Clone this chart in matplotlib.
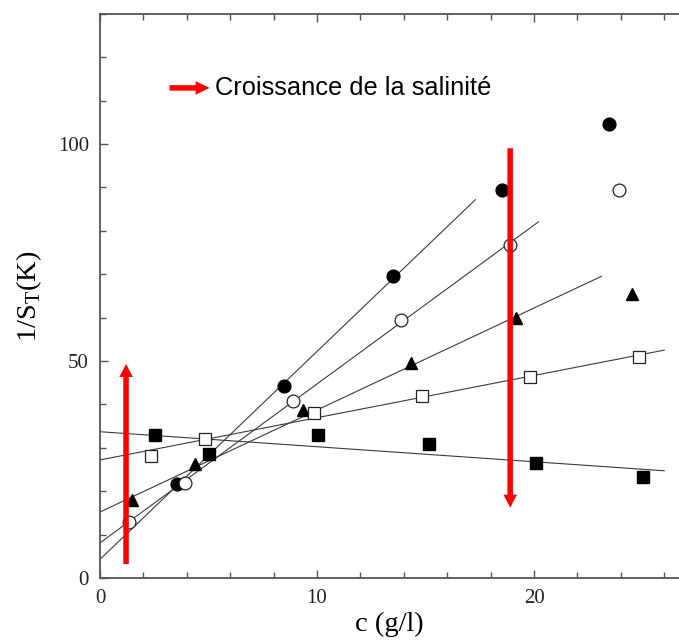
"""1/S_T versus salt concentration, with linear fits per series."""

import matplotlib

matplotlib.use("Agg")
import matplotlib.pyplot as plt
from matplotlib.ticker import MultipleLocator

SERIF = ["Liberation Serif", "DejaVu Serif"]
SANS = ["Liberation Sans", "DejaVu Sans"]
LINE_COLOR = "#3a3a3a"
SPINE_COLOR = "#555555"

# measured points, one list per series
c_filled_circle = [3.55, 8.48, 13.5, 18.54, 23.47]
st_filled_circle = [21.7, 44.2, 69.6, 89.5, 104.7]

c_open_circle = [1.35, 3.92, 8.88, 13.87, 18.9, 23.9]
st_open_circle = [12.8, 22.0, 40.8, 59.4, 76.7, 89.3]

c_triangle = [1.46, 4.38, 9.34, 14.33, 19.17, 24.5]
st_triangle = [18.0, 26.3, 38.7, 49.6, 60.0, 65.4]

c_open_square = [2.35, 4.85, 9.84, 14.84, 19.83, 24.82]
st_open_square = [28.1, 32.1, 37.9, 42.0, 46.3, 50.9]

c_filled_square = [2.52, 5.0, 10.06, 15.14, 20.07, 25.0]
st_filled_square = [33.0, 28.5, 33.0, 30.8, 26.4, 23.3]

# linear fits: intercept, slope, x where the drawn line stops
fit_intercepts = [4.3, 8.1, 15.2, 27.2, 33.7]
fit_slopes = [4.79, 3.66, 2.35, 0.973, -0.346]
fit_x_end = [17.3, 20.2, 23.1, 26.0, 26.0]

# red arrows (x, y_start, y_end)
arrow_up = (1.2, 3.2, 49.3)
arrow_down = (18.9, 99.0, 16.2)
# legend arrow (x_start, x_end, y)
legend_arrow = (3.2, 5.05, 112.9)
legend_text = "Croissance de la salinité"

fig = plt.figure(figsize=(6.79, 6.42), dpi=100)
ax = fig.add_axes([100 / 679, 64 / 642, 579 / 679, 564.3 / 642])

for b, m, xe in zip(fit_intercepts, fit_slopes, fit_x_end):
    ax.plot([0, xe], [b, b + m * xe], color=LINE_COLOR, linewidth=0.8, zorder=1)

ax.plot(c_filled_circle, st_filled_circle, "o", ms=9.2, mfc="black", mec="black", zorder=3)
ax.plot(c_open_circle, st_open_circle, "o", ms=9.2, mfc="white", mec="#222222", mew=0.9, zorder=3)
ax.plot(c_triangle, st_triangle, "^", ms=9.2, mfc="black", mec="black", zorder=3)
ax.plot(c_open_square, st_open_square, "s", ms=9.2, mfc="white", mec="#222222", mew=0.9, zorder=3)
ax.plot(c_filled_square, st_filled_square, "s", ms=9.2, mfc="black", mec="black", zorder=3)

# pixel sizes converted to data units (21.7 px per x unit, 4.34 px per y unit)
px_x, px_y = 1 / 21.7, 1 / 4.34
for x, y0, y1 in (arrow_up, arrow_down):
    ax.arrow(x, y0, 0, y1 - y0, width=5.5 * px_x, head_width=13.5 * px_x,
             head_length=13 * px_y, length_includes_head=True,
             color="red", lw=0, zorder=4)

x0, x1, y = legend_arrow
ax.arrow(x0, y, x1 - x0, 0, width=5.5 * px_y, head_width=13.5 * px_y,
         head_length=14 * px_x, length_includes_head=True,
         color="red", lw=0, zorder=4)
ax.text(x1 + 0.25, y, legend_text, fontsize=18.3, family=SANS, va="center", ha="left")

ax.set_xlim(0, 26.68)
ax.set_ylim(0, 130)
ax.xaxis.set_major_locator(MultipleLocator(10))
ax.xaxis.set_minor_locator(MultipleLocator(2))
ax.yaxis.set_major_locator(MultipleLocator(50))
ax.yaxis.set_minor_locator(MultipleLocator(10))
ax.tick_params(which="both", direction="in", top=True, right=False,
               color=SPINE_COLOR, width=1)
ax.tick_params(which="major", length=6, labelsize=15, pad=8)
ax.tick_params(which="minor", length=4)
for lab in ax.get_xticklabels() + ax.get_yticklabels():
    lab.set_family(SERIF)
    lab.set_color("#222222")

for side in ("left", "bottom", "top"):
    ax.spines[side].set_color(SPINE_COLOR)
    ax.spines[side].set_linewidth(1.3)
ax.spines["right"].set_visible(False)

ax.set_xlabel("c (g/l)", fontsize=20.5, family=SERIF, labelpad=3)
ax.set_ylabel(r"1/S$_\mathregular{T}$(K)", fontsize=20.5, family=SERIF, labelpad=10)

fig.savefig("out.png", dpi=100)
plt.close(fig)
